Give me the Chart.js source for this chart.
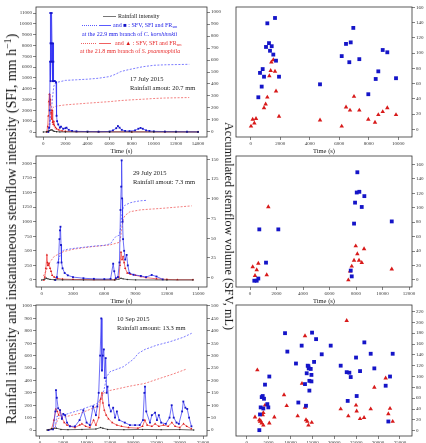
<!DOCTYPE html>
<html>
<head>
<meta charset="utf-8">
<script src="https://cdn.jsdelivr.net/npm/chart.js@4.4.0/dist/chart.umd.min.js"></script>
<style>
  html, body { margin: 0; padding: 0; background: #fff; overflow: hidden; }
  #wrap { position: relative; width: 426px; height: 443px; font-family: "Liberation Serif", "Times New Roman", serif; color: #222; }
  canvas { position: absolute; }
  .t { position: absolute; white-space: nowrap; line-height: 1; }
  .big { position: absolute; white-space: nowrap; line-height: 1; color: #111; }
  .ln { position: absolute; height: 0; }
  sub { font-size: 70%; vertical-align: -1px; line-height: 0; }
  sup { font-size: 70%; vertical-align: 5px; line-height: 0; }
</style>
</head>
<body>
<div id="wrap">
  <canvas id="l1" width="232" height="156" style="left:0;top:0"></canvas>
  <canvas id="l2" width="232" height="158" style="left:0;top:148px"></canvas>
  <canvas id="l3" width="232" height="152" style="left:0;top:298px"></canvas>
  <canvas id="r1" width="194" height="156" style="left:232px;top:0"></canvas>
  <canvas id="r2" width="194" height="158" style="left:232px;top:148px"></canvas>
  <canvas id="r3" width="194" height="152" style="left:232px;top:298px"></canvas>

  <div class="big" style="left:12px;top:229px;font-size:14px;transform:translate(-50%,-50%) rotate(-90deg)">Rainfall intensity and instantaneous stemflow intensity (SFI, mm h<sup>−1</sup>)</div>
  <div class="big" style="left:229px;top:226px;font-size:12.2px;transform:translate(-50%,-50%) rotate(90deg)">Accumulated stemflow volume (SFV, mL)</div>

  <!-- legend, top left panel -->
  <div class="ln" style="left:103px;top:16px;width:13px;border-top:0.8px solid #777"></div>
  <div class="t" style="left:118px;top:13px;font-size:6px">Rainfall intensity</div>
  <div class="ln" style="left:82px;top:25px;width:15px;border-top:0.8px dotted #5a5aff"></div>
  <div class="ln" style="left:99px;top:25px;width:12px;border-top:0.8px solid #5a5aff"></div>
  <div class="t" style="left:113px;top:22px;font-size:6px;color:#2424e8">and <span style="color:#1515c8">■</span> : SFV, SFI and FR<sub>sm</sub></div>
  <div class="t" style="left:82px;top:30.5px;font-size:6px;color:#2424e8">at the 22.9 mm branch of <i>C. korshinskii</i></div>
  <div class="ln" style="left:81px;top:42.5px;width:15px;border-top:0.8px dotted #f06060"></div>
  <div class="ln" style="left:99px;top:42.5px;width:12px;border-top:0.8px solid #f06060"></div>
  <div class="t" style="left:115px;top:39.5px;font-size:6px;color:#e83030">and <span style="color:#d81a1a">▲</span> : SFV, SFI and FR<sub>sm</sub></div>
  <div class="t" style="left:80px;top:47.5px;font-size:6px;color:#e83030">at the 21.8 mm branch of <i>S. psammophila</i></div>

  <!-- event notes -->
  <div class="t" style="left:130px;top:75.5px;font-size:6.5px">17 July 2015</div>
  <div class="t" style="left:130px;top:85px;font-size:6.5px">Rainfall amout: 20.7 mm</div>
  <div class="t" style="left:133px;top:169.5px;font-size:6.5px">29 July 2015</div>
  <div class="t" style="left:133px;top:179px;font-size:6.5px">Rainfall amout: 7.3 mm</div>
  <div class="t" style="left:117px;top:315.5px;font-size:6.5px">10 Sep 2015</div>
  <div class="t" style="left:117px;top:325px;font-size:6.5px">Rainfall amount: 13.3 mm</div>
</div>

<script>
// ---- 17 July 2015 ----
const jul17RainT = [0, 300, 500, 600, 700, 800, 900, 1000, 1200, 1500, 2000, 4000, 6000, 8000, 10000, 12000, 14000];
const jul17Rain = [0, 20, 80, 150, 200, 180, 100, 60, 30, 10, 5, 3, 3, 3, 2, 2, 0];
const jul17SfiBlueT = [450, 530, 580, 610, 630, 650, 670, 700, 730, 760, 790, 820, 850, 880, 910, 940, 970, 1060, 1150, 1200, 1250, 1350, 1500, 1600, 1800, 2000, 2100, 2300, 2600, 3000, 4000, 5000, 6000, 6300, 6600, 6750, 6900, 7100, 7400, 7800, 8300, 8600, 8800, 9000, 9300, 9600, 10000, 11000, 12000, 13000, 14000];
const jul17SfiBlue = [0, 400, 2000, 6500, 11000, 8200, 4700, 8200, 6500, 11000, 8200, 6500, 4700, 8200, 6500, 4700, 4700, 4700, 4600, 1500, 1000, 700, 400, 500, 300, 350, 400, 200, 100, 60, 40, 30, 50, 150, 350, 550, 400, 200, 100, 80, 150, 300, 380, 300, 150, 100, 60, 40, 30, 20, 10];
const jul17SfiRedT = [300, 400, 450, 500, 550, 600, 650, 700, 750, 800, 850, 900, 950, 1000, 1100, 1200, 1400, 1700, 2000, 3000, 5000, 8000, 11000, 14000];
const jul17SfiRed = [0, 500, 1500, 2800, 3500, 2500, 3000, 1800, 1200, 2000, 900, 700, 1000, 600, 400, 300, 200, 100, 60, 30, 20, 20, 10, 10];
const jul17SfvBlueT = [450, 550, 650, 750, 850, 950, 1050, 1300, 2000, 3000, 4000, 5000, 6000, 6500, 7000, 7500, 8000, 9000, 10000, 11000, 12000, 13200];
const jul17SfvBlue = [0, 30, 100, 200, 300, 380, 405, 415, 430, 435, 440, 448, 462, 480, 503, 515, 525, 544, 556, 560, 562, 564];
const jul17SfvRedT = [350, 450, 550, 650, 750, 850, 1000, 1500, 2000, 4000, 6000, 7000, 8000, 9000, 10000, 11000, 12000, 13200];
const jul17SfvRed = [0, 30, 80, 140, 180, 200, 212, 220, 226, 240, 253, 262, 268, 273, 279, 283, 285, 287];
const jul17TicksX = [0, 2000, 4000, 6000, 8000, 10000, 12000, 14000];
const jul17TicksSfi = [0, 1000, 2000, 3000, 4000, 5000, 6000, 7000, 8000, 9000, 10000, 11000];
const jul17TicksSfv = [0, 100, 200, 300, 400, 500, 600, 700, 800, 900, 1000];

// ---- 29 July 2015 ----
const jul29RainT = [0, 300, 450, 600, 800, 1200, 2000, 4000, 7000, 7400, 7600, 7800, 8200, 9000, 12000, 14500];
const jul29Rain = [0, 15, 30, 20, 10, 5, 2, 0, 0, 15, 30, 20, 8, 2, 0, 0];
const jul29SfiBlueT = [1300, 1450, 1600, 1700, 1750, 1800, 1850, 1900, 2000, 2200, 2500, 3000, 4000, 5000, 6000, 6600, 6850, 6950, 7100, 7300, 7450, 7550, 7620, 7660, 7700, 7750, 7800, 7900, 8000, 8140, 8250, 8400, 8800, 9500, 10000, 10540, 11000, 11600];
const jul29SfiBlue = [0, 50, 300, 700, 850, 913, 600, 300, 200, 120, 80, 50, 30, 20, 15, 20, 280, 150, 30, 50, 300, 1200, 1600, 2050, 1400, 1000, 700, 500, 350, 430, 250, 120, 90, 70, 50, 86, 60, 10];
const jul29SfiRedT = [200, 300, 400, 500, 550, 600, 700, 800, 900, 1000, 1200, 1500, 2000, 3000, 5000, 7000, 7400, 7500, 7600, 7700, 7800, 7900, 8000, 8200, 8500, 9000, 9500, 10000, 11000, 12000, 13000, 14500];
const jul29SfiRed = [0, 50, 200, 430, 300, 250, 280, 200, 150, 80, 50, 30, 15, 10, 5, 5, 50, 250, 480, 350, 400, 300, 200, 120, 100, 80, 60, 40, 20, 10, 5, 5];
const jul29SfvBlueT = [1450, 1600, 1750, 1900, 2100, 2500, 3000, 4000, 5000, 6000, 6600, 6900, 7100, 7450, 7550, 7650, 7750, 7850, 8000, 8500, 9000, 9500, 10060];
const jul29SfvBlue = [18, 22, 28, 32, 35, 36, 37, 38.5, 40, 41, 43, 49, 52, 54, 62, 76, 86, 90, 92, 95, 96.5, 97.5, 98];
const jul29SfvRedT = [150, 400, 800, 1200, 2070, 3000, 4000, 5000, 6540, 7500, 7650, 7820, 8000, 8460, 9500, 11650, 13000, 14370];
const jul29SfvRed = [2, 8, 20, 27, 33, 36, 38, 39.5, 41.5, 45, 60, 75, 79, 83.6, 86, 88, 89.5, 91];
const jul29TicksX = [0, 3000, 6000, 9000, 12000, 15000];
const jul29TicksSfi = [0, 250, 500, 750, 1000, 1250, 1500, 1750, 2000];
const jul29TicksSfv = [0, 25, 50, 75, 100, 125, 150];

// ---- 10 Sep 2015 ----
const sep10RainT = [1500, 2500, 3500, 4500, 6000, 9000, 12000, 13000, 13500, 14500, 18000, 22000, 26000, 30000, 33000];
const sep10Rain = [0, 10, 15, 5, 3, 5, 8, 20, 15, 5, 3, 5, 3, 4, 0];
const sep10SfiBlueT = [1800, 2800, 3300, 3430, 3600, 3900, 4300, 4700, 5000, 5400, 5800, 6400, 7500, 8500, 9300, 10000, 10700, 11400, 12000, 12300, 12600, 12900, 13150, 13300, 13500, 13700, 13900, 14100, 14300, 14500, 14800, 15200, 15700, 16100, 16500, 17000, 18200, 19300, 20400, 21400, 22100, 22400, 22530, 22800, 23600, 24000, 24700, 25100, 25500, 26000, 27000, 27800, 28260, 28700, 29300, 29800, 30500, 30760, 31200, 31600, 32000, 32500];
const sep10SfiBlue = [0, 5, 150, 322, 260, 175, 160, 90, 130, 120, 60, 30, 30, 80, 160, 60, 40, 190, 120, 190, 300, 600, 900, 480, 600, 650, 420, 580, 300, 350, 200, 150, 180, 100, 150, 80, 60, 40, 40, 40, 80, 300, 350, 150, 60, 120, 140, 80, 120, 60, 50, 100, 200, 100, 60, 50, 150, 230, 180, 170, 100, 30];
const sep10SfiRedT = [1800, 2500, 3000, 3400, 3700, 4000, 4300, 4700, 5200, 5800, 6500, 7500, 8500, 9000, 9800, 10700, 11500, 12000, 12600, 13000, 13300, 13500, 13800, 14200, 14700, 15500, 16500, 17500, 19000, 21000, 22000, 22500, 23000, 24000, 24700, 25500, 26500, 27500, 28300, 29000, 30000, 30800, 31500, 32500];
const sep10SfiRed = [0, 10, 80, 170, 150, 120, 160, 100, 60, 40, 30, 20, 40, 50, 30, 20, 80, 40, 100, 250, 300, 220, 160, 120, 90, 60, 40, 30, 20, 15, 30, 80, 40, 30, 50, 30, 40, 30, 60, 30, 20, 50, 30, 10];
const sep10SfvBlueT = [3300, 3580, 5000, 8580, 12170, 13000, 13730, 14300, 15020, 17880, 20020, 21100, 22530, 25040, 27900, 30760, 32550];
const sep10SfvBlue = [10, 54, 60, 81, 105, 125, 161, 215, 235, 255, 285, 309, 325, 342, 356, 374, 390];
const sep10SfvRedT = [3000, 3930, 8580, 12170, 13000, 13590, 14660, 19310, 22530, 25040, 28610, 31470];
const sep10SfvRed = [5, 47, 67, 94, 120, 148, 158, 177, 188, 204, 226, 246];
const sep10TicksX = [0, 5000, 10000, 15000, 20000, 25000, 30000, 35000];
const sep10TicksSfi = [0, 100, 200, 300, 400, 500, 600, 700, 800, 900, 1000];
const sep10TicksSfv = [0, 50, 100, 150, 200, 250, 300, 350, 400, 450, 500];

// ---- FR_sm scatter (right column) ----
const jul17FrBlueT = [517, 630, 745, 812, 902, 1127, 1037, 1240, 1308, 1424, 1532, 1647, 1715, 1919, 4698, 6170, 6461, 6685, 6780, 6956, 7363, 7973, 8475, 8651, 8950, 9261, 9851];
const jul17FrBlue = [42, 74, 56, 79, 69, 139, 108, 113, 103, 109, 98, 146, 90, 69, 59, 96, 112, 88, 114, 133, 92, 46, 66, 76, 104, 101, 67];
const jul17FrRedT = [20, 135, 247, 360, 902, 1015, 1127, 1263, 1356, 1399, 1532, 1647, 1715, 1919, 4698, 6170, 6461, 6732, 7003, 7363, 7973, 8427, 8651, 8950, 9261, 9851];
const jul17FrRed = [4, 13, 8, 14, 28, 33, 42, 70, 77, 88, 91, 76, 50, 17, 12, 4, 29, 25, 43, 25, 13, 9, 19, 23, 28, 19];
const jul17FrTicksX = [0, 2000, 4000, 6000, 8000, 10000];
const jul17FrTicksY = [0, 20, 40, 60, 80, 100, 120, 140, 160];

const jul29FrBlueT = [325, 506, 627, 702, 1208, 2137, 7603, 7678, 7852, 7928, 8056, 8101, 8252, 8433, 8630, 10698];
const jul29FrBlue = [-1, -1, 2, 70, 24, 70, 13, 5, 78, 107, 121, 149, 122, 101, 116, 81];
const jul29FrRedT = [204, 378, 506, 627, 1261, 1382, 7422, 7550, 7678, 7852, 7980, 8101, 8229, 8433, 8607, 10698];
const jul29FrRed = [18, 6, 14, 23, 7, 101, 0, 12, 19, 27, 47, 36, 27, 24, 43, 15];
const jul29FrTicksX = [0, 2000, 4000, 6000, 8000, 10000, 12000];
const jul29FrTicksY = [0, 20, 40, 60, 80, 100, 120, 140, 160];

const sep10FrBlueT = [2884, 3036, 3190, 3425, 3653, 3797, 3950, 4178, 4710, 4935, 5163, 8750, 9280, 11250, 11790, 12550, 13310, 13540, 13700, 13930, 14090, 14160, 14310, 14310, 14620, 14780, 14780, 14920, 15380, 15840, 17130, 19180, 21460, 23060, 22830, 23440, 23750, 25110, 24960, 25880, 26860, 28310, 29140, 31730, 32340, 32720, 33330];
const sep10FrBlue = [1, 30, 43, 62, 64, 41, 59, 85, 49, 43, 100, 180, 146, 124, 52, 157, 86, 46, 106, 120, 119, 115, 92, 74, 114, 103, 91, 181, 127, 169, 141, 157, 120, 55, 108, 107, 99, 64, 135, 110, 163, 142, 115, 83, 17, 100, 142];
const sep10FrRedT = [1895, 2427, 2884, 3036, 3190, 3425, 3653, 3797, 3797, 4178, 5163, 6305, 8522, 9130, 11640, 12620, 13310, 13310, 13540, 13840, 14090, 14850, 21460, 22830, 23200, 24960, 25110, 25880, 26800, 28310, 29140, 31730, 32340, 32720, 33330];
const sep10FrRed = [25, 112, 20, 17, 18, 14, 29, 33, 10, 47, 14, 25, 66, 46, 27, 87, 175, 43, 20, 17, 10, 15, 40, 203, 27, 47, 36, 22, 24, 40, 80, 97, 31, 41, 17];
const sep10FrTicksX = [0, 5000, 10000, 15000, 20000, 25000, 30000, 35000];
const sep10FrTicksY = [0, 20, 40, 60, 80, 100, 120, 140, 160, 180, 200, 220];

const serif = "'Liberation Serif', 'Times New Roman', serif";
const BLUE = '#3030f4';
const BLUE_MARK = '#1515c8';
const BLUE_DOT = '#5a5aff';
const RED = '#f03c3c';
const RED_MARK = '#d81a1a';
const RED_DOT = '#f06060';
const RAIN = '#222';

function pts(t, v) {
  return t.map((x, i) => ({ x: x, y: v[i] }));
}

function fixTicks(vals) {
  return scale => { scale.ticks = vals.map(v => ({ value: v })); };
}

// box round the plot area, like the Origin frame
const frame = {
  id: 'frame',
  afterDatasetsDraw(chart) {
    const a = chart.chartArea;
    const ctx = chart.ctx;
    ctx.save();
    ctx.strokeStyle = '#333';
    ctx.lineWidth = 0.8;
    ctx.strokeRect(a.left, a.top, a.right - a.left, a.bottom - a.top);
    ctx.restore();
  }
};

function axis(min, max, ticks, fit, title) {
  const a = {
    type: 'linear',
    min: min,
    max: max,
    afterBuildTicks: fixTicks(ticks),
    afterFit: fit,
    border: { display: false },
    grid: { drawOnChartArea: false, drawTicks: true, tickLength: 3, color: '#333', lineWidth: 0.6 },
    ticks: { font: { family: serif, size: 5 }, color: '#333', padding: 1, maxRotation: 0, autoSkip: false, callback: v => String(v) }
  };
  if (title) {
    a.title = { display: true, text: title, font: { family: serif, size: 6.5 }, color: '#222', padding: { top: 0, bottom: 1 } };
  }
  return a;
}

function seriesChart(id, d) {
  new Chart(document.getElementById(id), {
    type: 'line',
    data: {
      datasets: [
        { data: pts(d.rainT, d.rain), borderColor: RAIN, borderWidth: 0.7, pointRadius: 0.7, pointBackgroundColor: RAIN, pointBorderWidth: 0, yAxisID: 'y' },
        { data: pts(d.sfiBT, d.sfiB), borderColor: BLUE, borderWidth: 0.7, pointStyle: 'rect', pointRadius: 1.3, pointBackgroundColor: BLUE_MARK, pointBorderWidth: 0, yAxisID: 'y' },
        { data: pts(d.sfiRT, d.sfiR), borderColor: RED, borderWidth: 0.7, pointStyle: 'triangle', pointRadius: 1.3, pointBackgroundColor: RED_MARK, pointBorderWidth: 0, yAxisID: 'y' },
        { data: pts(d.sfvBT, d.sfvB), borderColor: BLUE_DOT, borderWidth: 0.8, borderDash: [2, 1.5], pointRadius: 0, yAxisID: 'y1' },
        { data: pts(d.sfvRT, d.sfvR), borderColor: RED_DOT, borderWidth: 0.8, borderDash: [2, 1.5], pointRadius: 0, yAxisID: 'y1' }
      ]
    },
    options: {
      responsive: false,
      animation: false,
      events: [],
      layout: { padding: { top: d.padTop, left: 0, right: 0, bottom: 0 } },
      plugins: { legend: { display: false }, tooltip: { enabled: false } },
      elements: { line: { tension: 0 } },
      scales: {
        x: axis(d.xMin, d.xMax, d.xTicks, s => { s.height = d.xH; }, 'Time (s)'),
        y: Object.assign(axis(d.yMin, d.yMax, d.yTicks, s => { s.width = 36; }), { position: 'left' }),
        y1: Object.assign(axis(d.y1Min, d.y1Max, d.y1Ticks, s => { s.width = 25; }), { position: 'right' })
      }
    },
    plugins: [frame]
  });
}

function frChart(id, d) {
  new Chart(document.getElementById(id), {
    type: 'scatter',
    data: {
      datasets: [
        { data: pts(d.bT, d.b), pointStyle: 'rect', pointRadius: 2.7, pointBackgroundColor: BLUE_MARK, pointBorderWidth: 0 },
        { data: pts(d.rT, d.r), pointStyle: 'triangle', pointRadius: 2.6, pointBackgroundColor: RED_MARK, pointBorderWidth: 0 }
      ]
    },
    options: {
      responsive: false,
      animation: false,
      events: [],
      layout: { padding: { top: d.padTop, left: 4, right: 0, bottom: 0 } },
      plugins: { legend: { display: false }, tooltip: { enabled: false } },
      scales: {
        x: axis(d.xMin, d.xMax, d.xTicks, s => { s.height = d.xH; }, 'Time (s)'),
        y: Object.assign(axis(d.yMin, d.yMax, d.yTicks, s => { s.width = 14; }), { position: 'right' })
      }
    },
    plugins: [frame]
  });
}

seriesChart('l1', {
  rainT: jul17RainT, rain: jul17Rain,
  sfiBT: jul17SfiBlueT, sfiB: jul17SfiBlue, sfiRT: jul17SfiRedT, sfiR: jul17SfiRed,
  sfvBT: jul17SfvBlueT, sfvB: jul17SfvBlue, sfvRT: jul17SfvRedT, sfvR: jul17SfvRed,
  xMin: -660, xMax: 14810, xTicks: jul17TicksX,
  yMin: -462, yMax: 11555, yTicks: jul17TicksSfi,
  y1Min: -42, y1Max: 1042, y1Ticks: jul17TicksSfv,
  padTop: 7, xH: 19
});

seriesChart('l2', {
  rainT: jul29RainT, rain: jul29Rain,
  sfiBT: jul29SfiBlueT, sfiB: jul29SfiBlue, sfiRT: jul29SfiRedT, sfiR: jul29SfiRed,
  sfvBT: jul29SfvBlueT, sfvB: jul29SfvBlue, sfvRT: jul29SfvRedT, sfvR: jul29SfvRed,
  xMin: -546, xMax: 15840, xTicks: jul29TicksX,
  yMin: -120, yMax: 2125, yTicks: jul29TicksSfi,
  y1Min: -11.8, y1Max: 154.2, y1Ticks: jul29TicksSfv,
  padTop: 8, xH: 19
});

seriesChart('l3', {
  rainT: sep10RainT, rain: sep10Rain,
  sfiBT: sep10SfiBlueT, sfiB: sep10SfiBlue, sfiRT: sep10SfiRedT, sfiR: sep10SfiRed,
  sfvBT: sep10SfvBlueT, sfvB: sep10SfvBlue, sfvRT: sep10SfvRedT, sfvR: sep10SfvRed,
  xMin: -858, xMax: 35840, xTicks: sep10TicksX,
  yMin: -48, yMax: 1008, yTicks: sep10TicksSfi,
  y1Min: -24, y1Max: 504, y1Ticks: sep10TicksSfv,
  padTop: 7, xH: 14
});

frChart('r1', {
  bT: jul17FrBlueT, b: jul17FrBlue, rT: jul17FrRedT, r: jul17FrRed,
  xMin: -997, xMax: 10935, xTicks: jul17FrTicksX,
  yMin: -10.1, yMax: 160.4, yTicks: jul17FrTicksY,
  padTop: 7, xH: 19
});

frChart('r2', {
  bT: jul29FrBlueT, b: jul29FrBlue, rT: jul29FrRedT, r: jul29FrRed,
  xMin: -1057, xMax: 12226, xTicks: jul29FrTicksX,
  yMin: -9.7, yMax: 171.5, yTicks: jul29FrTicksY,
  padTop: 8, xH: 19
});

frChart('r3', {
  bT: sep10FrBlueT, b: sep10FrBlue, rT: sep10FrRedT, r: sep10FrRed,
  xMin: -2443, xMax: 37740, xTicks: sep10FrTicksX,
  yMin: -9.8, yMax: 232, yTicks: sep10FrTicksY,
  padTop: 7, xH: 14
});
</script>
</body>
</html>
